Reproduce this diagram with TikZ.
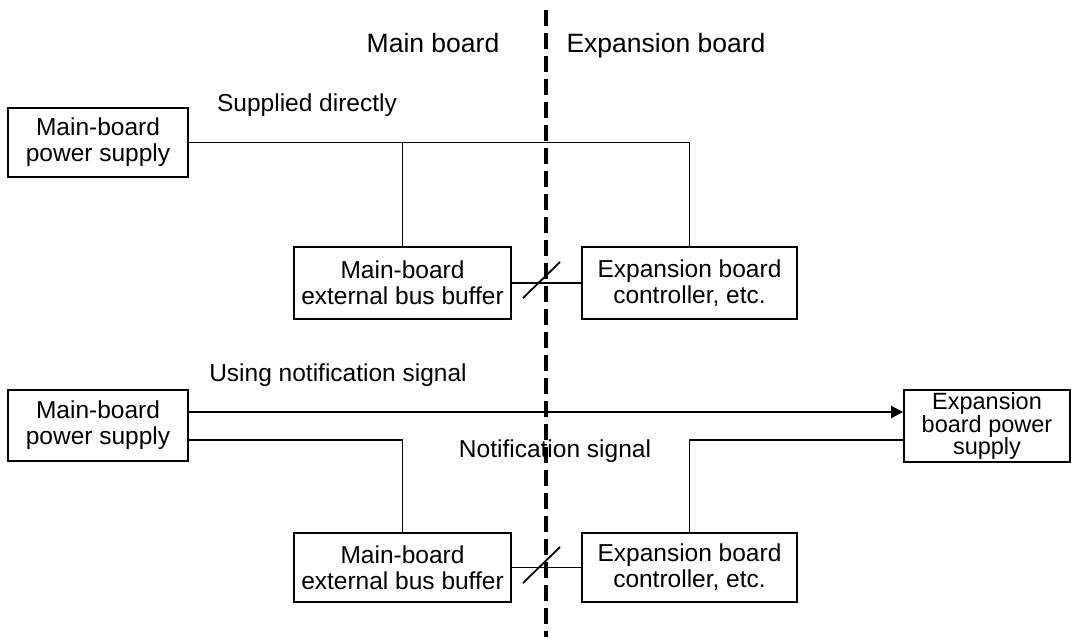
\documentclass[tikz,border=0pt]{standalone}
\usepackage{fontspec}
\setmainfont{Liberation Sans}
\usetikzlibrary{arrows.meta}

\begin{document}
\begin{tikzpicture}[x=1pt, y=-1pt,
  wire/.style={line width=1.8pt, line cap=rect},
  blk/.style={draw, line width=1.8pt, align=center, inner sep=0pt,
              font=\fontsize{24.5}{26}\selectfont},
  lbl/.style={inner sep=0pt, anchor=base, font=\fontsize{24.5}{26}\selectfont},
  hdr/.style={inner sep=0pt, anchor=base, font=\fontsize{26.5}{28}\selectfont},
  divider/.style={line width=3.2pt, dash pattern=on 16pt off 7pt},
  bus/.style={line width=1.8pt}
]
\useasboundingbox (0,0) rectangle (1073,637);

% board divider
\coordinate (divtop) at (546,10);
\coordinate (divbot) at (546,637);
\draw[divider] (divtop) -- (divbot);

% headings and captions
\node[hdr] (hmain) at (433,52) {Main board};
\node[hdr] (hexp) at (666,52) {Expansion board};
\node[lbl] (capA) at (307,111) {Supplied directly};
\node[lbl] (capB) at (338,381) {Using notification signal};
\node[lbl] (capC) at (555,457) {Notification signal};

% upper case: supplied directly
\node[blk, minimum width=180pt, minimum height=69pt] (psA) at (98,142.5)
  {Main-board\\power supply};
\node[blk, minimum width=217pt, minimum height=72pt] (bufA) at (402.5,283)
  {Main-board\\external bus buffer};
\node[blk, minimum width=215pt, minimum height=72pt] (ctlA) at (689.5,283)
  {Expansion board\\controller, etc.};

\draw[wire] (psA.east) -- (ctlA.north |- psA.east) -- (ctlA.north);
\draw[wire] (bufA.north |- psA.east) -- (bufA.north);
\draw[bus] (bufA.east) -- (ctlA.west);
\coordinate (slA1) at (523,298);
\coordinate (slA2) at (560,262);
\draw[bus] (slA1) -- (slA2);

% lower case: using a notification signal
\node[blk, minimum width=180pt, minimum height=71pt] (psB) at (98,425.5)
  {Main-board\\power supply};
\node[blk, minimum width=217pt, minimum height=69pt] (bufB) at (402.5,567.5)
  {Main-board\\external bus buffer};
\node[blk, minimum width=215pt, minimum height=69pt] (ctlB) at (689.5,567.5)
  {Expansion board\\controller, etc.};
\node[blk, minimum width=166pt, minimum height=72pt,
      font=\fontsize{23.5}{17.5}\selectfont] (psX) at (987,426)
  {Expansion\\board power\\supply};

\coordinate (nA) at (psB.east |- 0,412);
\coordinate (nB) at (psB.east |- 0,440);
\draw[wire, -{Triangle[length=12pt,width=12pt]}] (nA) -- (psX.west |- nA);
\draw[wire] (nB) -- (bufB.north |- nB) -- (bufB.north);
\draw[wire] (ctlB.north) -- (ctlB.north |- nB) -- (psX.west |- nB);
\draw[bus] (bufB.east) -- (ctlB.west);
\coordinate (slB1) at (523,583);
\coordinate (slB2) at (560,547);
\draw[bus] (slB1) -- (slB2);
\end{tikzpicture}
\end{document}
